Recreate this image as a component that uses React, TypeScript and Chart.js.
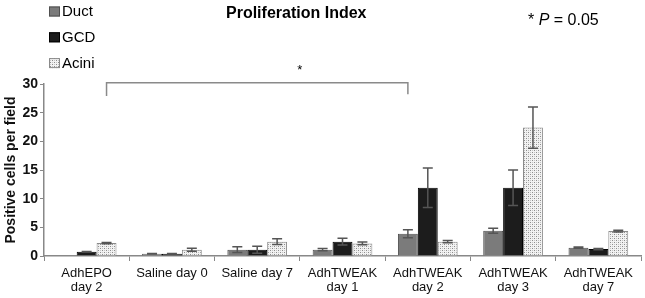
import React, { useEffect, useRef } from "react";
import { Chart, registerables } from "chart.js";

Chart.register(...registerables);

const categories: (string | string[])[] = [
  ["AdhEPO", "day 2"],
  "Saline day 0",
  "Saline day 7",
  ["AdhTWEAK", "day 1"],
  ["AdhTWEAK", "day 2"],
  ["AdhTWEAK", "day 3"],
  ["AdhTWEAK", "day 7"],
];
const seriesNames = ["Duct", "GCD", "Acini"];
const ductValues = [0, 0.4, 1.1, 1.1, 3.9, 4.4, 1.45];
const ductErrors = [0, 0.05, 0.5, 0.2, 0.7, 0.45, 0.1];
const gcdValues = [0.75, 0.4, 1.1, 2.5, 11.9, 11.9, 1.2];
const gcdErrors = [0.05, 0.05, 0.6, 0.6, 3.45, 3.1, 0.1];
const aciniValues = [2.25, 1.1, 2.5, 2.2, 2.5, 22.4, 4.35];
const aciniErrors = [0.1, 0.25, 0.5, 0.25, 0.2, 3.6, 0.15];
const yTicks = [0, 5, 10, 15, 20, 25, 30];
const titleText = "Proliferation Index";
const pText = "P";
const yTitle = "Positive cells per field";

const FONT = "'Liberation Sans', Arial, sans-serif";

function makePattern(): CanvasPattern | string {
  const c = document.createElement("canvas");
  c.width = 4;
  c.height = 4;
  const g = c.getContext("2d");
  if (!g) return "#ddd";
  g.fillStyle = "#f2f2f2";
  g.fillRect(0, 0, 4, 4);
  g.fillStyle = "#8c8c8c";
  g.fillRect(0, 0, 1, 1);
  g.fillRect(2, 2, 1, 1);
  g.fillStyle = "#c4c4c4";
  g.fillRect(2, 0, 1, 1);
  g.fillRect(0, 2, 1, 1);
  const p = g.createPattern(c, "repeat");
  return p || "#ddd";
}

export default function App() {
  const ref = useRef<HTMLCanvasElement>(null);
  useEffect(() => {
    if (!ref.current) return;
    const pattern = makePattern();
    const errors = [ductErrors, gcdErrors, aciniErrors];
    const fills: any[] = ["#7b7b7b", "#1c1c1c", pattern];
    const borders = ["#505050", "#000000", "#8a8a8a"];

    const overlay = {
      id: "overlay",
      afterDatasetsDraw(chart: any) {
        const ctx = chart.ctx as CanvasRenderingContext2D;
        const y = chart.scales.y;
        const x = chart.scales.x;
        // error bars
        ctx.save();
        ctx.strokeStyle = "#555555";
        ctx.lineWidth = 1.5;
        chart.data.datasets.forEach((ds: any, di: number) => {
          const meta = chart.getDatasetMeta(di);
          ds.data.forEach((v: number, i: number) => {
            const e = errors[di][i];
            if (!v || !e) return;
            const bx = meta.data[i].x;
            const yt = y.getPixelForValue(v + e);
            const yb = y.getPixelForValue(v - e);
            ctx.beginPath();
            ctx.moveTo(bx, yt);
            ctx.lineTo(bx, yb);
            ctx.moveTo(bx - 5, yt);
            ctx.lineTo(bx + 5, yt);
            ctx.moveTo(bx - 5, yb);
            ctx.lineTo(bx + 5, yb);
            ctx.stroke();
          });
        });
        // bracket
        const m0 = chart.getDatasetMeta(2);
        const m1 = chart.getDatasetMeta(0);
        const lx = m0.data[0].x;
        const rx = m1.data[4].x;
        const top = y.getPixelForValue(30.2);
        const lb = y.getPixelForValue(27.9);
        const rb = y.getPixelForValue(28.2);
        ctx.strokeStyle = "#8a8a8a";
        ctx.lineWidth = 1.5;
        ctx.beginPath();
        ctx.moveTo(lx, lb);
        ctx.lineTo(lx, top);
        ctx.lineTo(rx, top);
        ctx.lineTo(rx, rb);
        ctx.stroke();
        ctx.fillStyle = "#000";
        ctx.font = `13px ${FONT}`;
        ctx.textAlign = "center";
        ctx.textBaseline = "middle";
        ctx.fillText("*", x.getPixelForValue(2.5), y.getPixelForValue(32.4));
        // title
        ctx.textAlign = "left";
        ctx.font = `bold 16px ${FONT}`;
        ctx.fillText(titleText, 226, 14);
        // p value
        ctx.font = `16px ${FONT}`;
        ctx.fillText("* ", 528, 21);
        const w1 = ctx.measureText("* ").width;
        ctx.font = `italic 16px ${FONT}`;
        ctx.fillText(pText, 528 + w1, 21);
        const w2 = ctx.measureText(pText).width;
        ctx.font = `16px ${FONT}`;
        ctx.fillText(" = 0.05", 528 + w1 + w2, 21);
        // legend
        seriesNames.forEach((name, i) => {
          const cy = 11.5 + i * 25.8;
          ctx.fillStyle = fills[i];
          ctx.fillRect(49, cy - 5, 11, 10);
          ctx.strokeStyle = borders[i];
          ctx.lineWidth = 1;
          ctx.strokeRect(49.5, cy - 4.5, 10, 9);
          ctx.fillStyle = "#000";
          ctx.font = `15px ${FONT}`;
          ctx.fillText(name, 62, cy + 0.5);
        });
        ctx.restore();
      },
    };

    const chart = new Chart(ref.current, {
      type: "bar",
      data: {
        labels: categories,
        datasets: [ductValues, gcdValues, aciniValues].map((d, i) => ({
          label: seriesNames[i],
          data: d,
          backgroundColor: fills[i],
          borderColor: borders[i],
          borderWidth: 1,
          categoryPercentage: 0.7,
          barPercentage: 1.0,
        })),
      },
      options: {
        responsive: false,
        animation: false,
        devicePixelRatio: 1,
        layout: { padding: { top: 84, right: 4, left: 0, bottom: 0 } },
        plugins: {
          legend: { display: false },
          title: { display: false },
          tooltip: { enabled: false },
        },
        scales: {
          x: {
            offset: true,
            grid: {
              display: true,
              offset: true,
              drawOnChartArea: false,
              drawTicks: true,
              tickLength: 5,
              color: "#888",
            },
            border: { display: true, color: "#888", width: 1.5 },
            ticks: {
              color: "#111",
              font: { family: FONT, size: 13, lineHeight: 1.08 },
              padding: 5,
              maxRotation: 0,
              autoSkip: false,
            },
            afterFit: (s: any) => {
              s.height = 42;
            },
          },
          y: {
            min: 0,
            max: 30,
            afterBuildTicks: (s: any) => {
              s.ticks = yTicks.map((v) => ({ value: v }));
            },
            grid: {
              display: true,
              drawOnChartArea: false,
              drawTicks: true,
              tickLength: 4,
              color: "#888",
            },
            border: { display: true, color: "#888", width: 1.5 },
            ticks: {
              color: "#111",
              font: { family: FONT, size: 14, weight: "bold" },
              padding: 2,
            },
            title: {
              display: true,
              text: yTitle,
              color: "#111",
              font: { family: FONT, size: 14, weight: "bold" },
              padding: { top: 3, bottom: 0 },
            },
            afterFit: (s: any) => {
              s.width = 44;
            },
          },
        },
      },
      plugins: [overlay],
    });
    return () => chart.destroy();
  }, []);
  return (
    <div style={{ position: "fixed", left: 0, top: 0, width: 645, height: 298, background: "#fff" }}>
      <canvas ref={ref} width={645} height={298} style={{ display: "block", width: 645, height: 298 }} />
    </div>
  );
}
